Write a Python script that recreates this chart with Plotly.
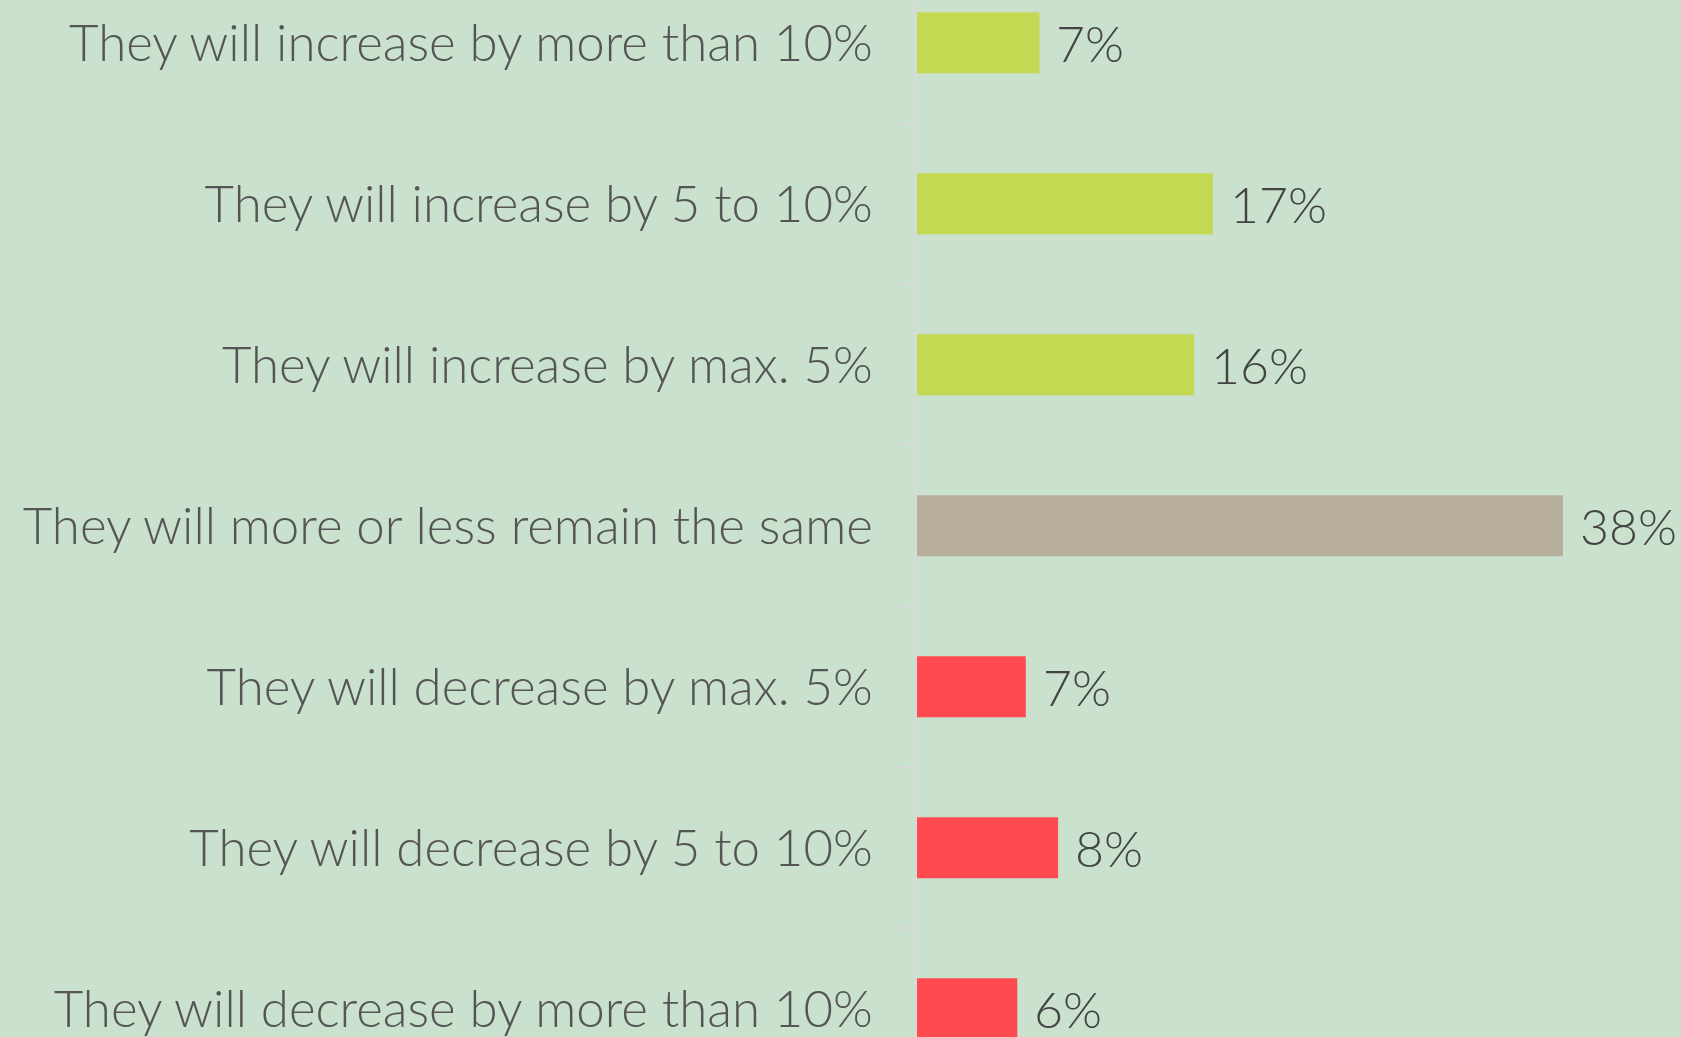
import plotly.graph_objects as go

categories = [
    "They will increase by more than 10%",
    "They will increase by 5 to 10%",
    "They will increase by max. 5%",
    "They will more or less remain the same",
    "They will decrease by max. 5%",
    "They will decrease by 5 to 10%",
    "They will decrease by more than 10%",
]
values = [7.2, 17.4, 16.3, 38.0, 6.4, 8.3, 5.9]
value_labels = ["7%", "17%", "16%", "38%", "7%", "8%", "6%"]
bar_colors = ["#c4d952", "#c4d952", "#c4d952", "#b7af9b", "#ff4b50", "#ff4b50", "#ff4b50"]

BG = "#c9e1cd"
FONT = "Lato"

fig = go.Figure()
fig.add_trace(go.Bar(
    x=values,
    y=categories,
    orientation="h",
    marker=dict(color=bar_colors, line=dict(width=0)),
    width=0.379,
    hoverinfo="skip",
))

for cat, v, lab in zip(categories, values, value_labels):
    fig.add_annotation(
        x=v, y=cat, text=lab, showarrow=False,
        xanchor="left", yanchor="middle", xshift=15,
        font=dict(family=FONT, size=50, color="#444444", weight=300),
    )

fig.update_layout(
    width=1681, height=1037,
    margin=dict(l=917, r=0, t=0, b=0),
    paper_bgcolor=BG, plot_bgcolor=BG,
    showlegend=False,
    xaxis=dict(range=[0, 764 / 17.0], visible=False, fixedrange=True),
    yaxis=dict(
        type="category",
        categoryorder="array", categoryarray=categories,
        range=[6.175, -0.266],
        showline=True, linecolor="#d9d9d9", linewidth=2,
        ticks="outside", ticklen=16, tickwidth=2, tickcolor="#d9d9d9",
        tickson="boundaries",
        showgrid=False, zeroline=False,
        tickfont=dict(family=FONT, size=51, color="#555555", weight=300),
        ticklabelstandoff=32,
        fixedrange=True,
    ),
)

fig.write_html("out.html", config={"displayModeBar": False, "staticPlot": True})

with open("out.html", "r", encoding="utf-8") as f:
    html = f.read()
html = html.replace("<body>", '<body style="margin:0;padding:0;overflow:hidden;background:%s">' % BG, 1)
html = html.replace("<head>", "<head><style>html,body{margin:0;padding:0;}</style>", 1)
with open("out.html", "w", encoding="utf-8") as f:
    f.write(html)
